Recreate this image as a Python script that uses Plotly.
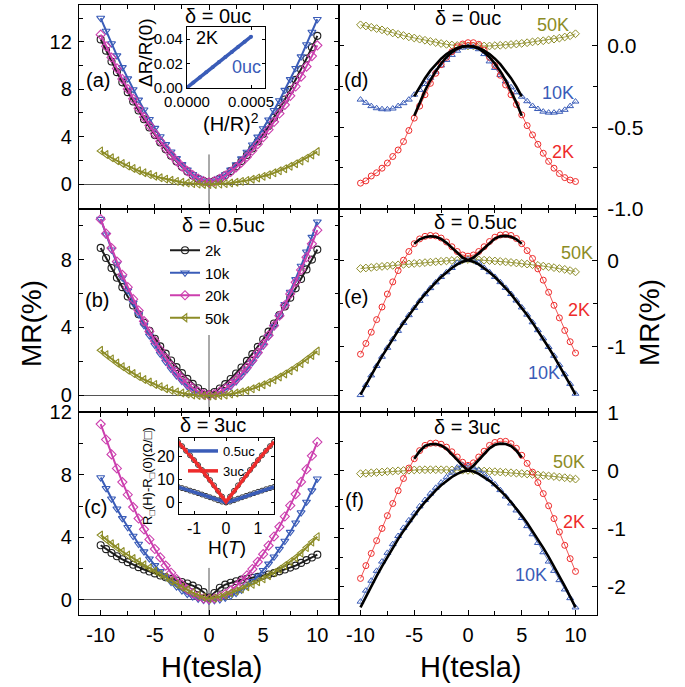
import plotly.graph_objects as go

W, HT = 685, 687
FONT = "Liberation Sans, Arial, sans-serif"

def px(x):
    return x / W

def py(y):
    return 1 - y / HT

BLACK = "#1e1e1e"
BLUE = "#3a5cb8"
MAGENTA = "#cc3fae"
OLIVE = "#8c8c26"
RED = "#ee2b2b"

# ---------------- data ----------------
H = [-10.0, -9.5, -9.0, -8.5, -8.0, -7.5, -7.0, -6.5, -6.0, -5.5, -5.0, -4.5, -4.0, -3.5,
     -3.0, -2.5, -2.0, -1.5, -1.0, -0.5, 0.0, 0.5, 1.0, 1.5, 2.0, 2.5, 3.0, 3.5, 4.0, 4.5,
     5.0, 5.5, 6.0, 6.5, 7.0, 7.5, 8.0, 8.5, 9.0, 9.5, 10.0]
H_FIT = [-5.0, -4.5, -4.0, -3.5, -3.0, -2.5, -2.0, -1.5, -1.0, -0.5, 0.0,
         0.5, 1.0, 1.5, 2.0, 2.5, 3.0, 3.5, 4.0, 4.5, 5.0]

# panel (a)  delta = 0uc
A_2K = [12.2, 11.25, 10.33, 9.44, 8.58, 7.75, 6.96, 6.20, 5.47, 4.78, 4.13, 3.51, 2.93, 2.40,
        1.91, 1.46, 1.07, 0.73, 0.45, 0.25, 0.15, 0.25, 0.46, 0.74, 1.09, 1.49, 1.95, 2.45,
        3.00, 3.59, 4.22, 4.89, 5.60, 6.35, 7.13, 7.94, 8.79, 9.67, 10.58, 11.53, 12.5]
A_10K = [14.0, 12.91, 11.85, 10.83, 9.84, 8.89, 7.98, 7.10, 6.27, 5.47, 4.72, 4.01, 3.35, 2.73,
         2.17, 1.66, 1.21, 0.82, 0.50, 0.26, 0.15, 0.26, 0.50, 0.81, 1.20, 1.65, 2.15, 2.71,
         3.32, 3.98, 4.69, 5.43, 6.22, 7.05, 7.92, 8.83, 9.77, 10.75, 11.77, 12.82, 13.9]
A_20K = [12.6, 11.62, 10.67, 9.75, 8.86, 8.01, 7.19, 6.40, 5.65, 4.93, 4.26, 3.62, 3.02, 2.47,
         1.96, 1.50, 1.10, 0.75, 0.46, 0.25, 0.15, 0.25, 0.44, 0.71, 1.03, 1.41, 1.83, 2.30,
         2.82, 3.37, 3.96, 4.59, 5.25, 5.95, 6.68, 7.44, 8.23, 9.06, 9.91, 10.79, 11.7]
A_50K = [2.8, 2.49, 2.22, 1.97, 1.74, 1.52, 1.32, 1.13, 0.96, 0.80, 0.66, 0.53, 0.42, 0.32,
         0.23, 0.15, 0.09, 0.04, 0.0, -0.03, -0.04, -0.03, 0.0, 0.04, 0.09, 0.15, 0.23, 0.31,
         0.41, 0.52, 0.65, 0.79, 0.95, 1.12, 1.30, 1.50, 1.72, 1.95, 2.19, 2.46, 2.75]

# panel (b)  delta = 0.5uc
B_2K = [8.7, 8.10, 7.51, 6.94, 6.38, 5.83, 5.30, 4.78, 4.28, 3.80, 3.33, 2.88, 2.45, 2.04,
        1.65, 1.30, 0.96, 0.66, 0.40, 0.18, 0.05, 0.18, 0.39, 0.65, 0.95, 1.28, 1.63, 2.02,
        2.42, 2.85, 3.29, 3.75, 4.23, 4.73, 5.24, 5.76, 6.31, 6.86, 7.43, 8.01, 8.6]
B_10K = [10.4, 9.48, 8.59, 7.75, 6.94, 6.18, 5.45, 4.77, 4.12, 3.51, 2.95, 2.44, 1.96, 1.53,
         1.15, 0.82, 0.52, 0.29, 0.12, 0.0, -0.05, 0.0, 0.11, 0.29, 0.52, 0.80, 1.13, 1.51,
         1.93, 2.40, 2.91, 3.46, 4.06, 4.70, 5.37, 6.09, 6.84, 7.63, 8.47, 9.34, 10.25]
B_20K = [10.4, 9.54, 8.69, 7.89, 7.11, 6.38, 5.67, 5.00, 4.37, 3.76, 3.20, 2.67, 2.19, 1.75,
         1.34, 0.99, 0.68, 0.42, 0.21, 0.06, 0.0, 0.06, 0.20, 0.39, 0.63, 0.93, 1.26, 1.64,
         2.06, 2.51, 3.00, 3.53, 4.10, 4.69, 5.31, 5.98, 6.67, 7.40, 8.15, 8.94, 9.75]
B_50K = [2.65, 2.39, 2.14, 1.90, 1.68, 1.47, 1.27, 1.09, 0.92, 0.77, 0.63, 0.50, 0.38, 0.28,
         0.19, 0.12, 0.06, 0.01, -0.02, -0.04, -0.05, -0.04, -0.02, 0.01, 0.06, 0.12, 0.19,
         0.27, 0.37, 0.49, 0.61, 0.75, 0.90, 1.07, 1.25, 1.44, 1.65, 1.86, 2.10, 2.34, 2.60]

# panel (c)  delta = 3uc
C_2K = [3.5, 3.25, 3.0, 2.8, 2.6, 2.42, 2.25, 2.1, 1.95, 1.82, 1.7, 1.57, 1.45, 1.35, 1.25,
        1.15, 1.05, 0.92, 0.75, 0.5, 0.15, 0.45, 0.78, 0.98, 1.1, 1.2, 1.3, 1.36, 1.42, 1.48,
        1.55, 1.63, 1.72, 1.83, 1.95, 2.07, 2.2, 2.37, 2.55, 2.72, 2.9]
C_10K = [7.83, 7.14, 6.47, 5.83, 5.22, 4.65, 4.09, 3.58, 3.09, 2.64, 2.21, 1.83, 1.46, 1.14,
         0.86, 0.60, 0.38, 0.21, 0.08, -0.01, -0.05, -0.03, 0.03, 0.13, 0.26, 0.44, 0.65,
         0.91, 1.20, 1.53, 1.90, 2.31, 2.76, 3.25, 3.77, 4.34, 4.94, 5.59, 6.27, 6.99, 7.75]
C_20K = [11.25, 10.26, 9.31, 8.41, 7.54, 6.73, 5.94, 5.21, 4.52, 3.87, 3.26, 2.72, 2.20, 1.74,
         1.34, 0.98, 0.67, 0.42, 0.23, 0.10, 0.05, 0.10, 0.21, 0.38, 0.60, 0.88, 1.21, 1.57,
         1.98, 2.44, 2.93, 3.48, 4.06, 4.68, 5.34, 6.04, 6.77, 7.55, 8.36, 9.22, 10.1]
C_50K = [4.15, 3.87, 3.6, 3.35, 3.1, 2.87, 2.65, 2.45, 2.25, 2.05, 1.85, 1.65, 1.45, 1.22,
         1.0, 0.82, 0.65, 0.47, 0.3, 0.18, 0.1, 0.13, 0.2, 0.32, 0.45, 0.57, 0.7, 0.85, 1.0,
         1.17, 1.35, 1.55, 1.75, 1.97, 2.2, 2.45, 2.7, 3.0, 3.35, 3.7, 4.05]

# panel (d)  delta = 0uc
D_2K = [-0.844, -0.83, -0.80, -0.78, -0.752, -0.72, -0.68, -0.64, -0.588, -0.52, -0.444,
        -0.37, -0.30, -0.23, -0.168, -0.115, -0.07, -0.035, -0.005, 0.012, 0.02, 0.02, 0.01,
        -0.025, -0.07, -0.12, -0.18, -0.24, -0.30, -0.36, -0.424, -0.49, -0.547, -0.605,
        -0.66, -0.71, -0.752, -0.785, -0.81, -0.825, -0.834]
D_10K = [-0.33, -0.35, -0.37, -0.383, -0.389, -0.39, -0.385, -0.37, -0.352, -0.33, -0.30,
         -0.27, -0.234, -0.196, -0.158, -0.12, -0.086, -0.055, -0.029, -0.01, -0.004, -0.006,
         -0.02, -0.05, -0.095, -0.135, -0.178, -0.218, -0.254, -0.285, -0.312, -0.34, -0.369,
         -0.388, -0.404, -0.41, -0.41, -0.405, -0.393, -0.37, -0.342]
D_50K = [0.13, 0.123, 0.115, 0.107, 0.099, 0.09, 0.08, 0.072, 0.064, 0.056, 0.049, 0.042,
         0.035, 0.028, 0.021, 0.015, 0.01, 0.006, 0.003, 0.001, 0.0, 0.0, -0.001, 0.0, 0.0,
         0.002, 0.004, 0.006, 0.009, 0.012, 0.016, 0.02, 0.025, 0.029, 0.032, 0.037, 0.042,
         0.048, 0.055, 0.063, 0.075]
D_FIT_10K = [-0.31, -0.251, -0.198, -0.152, -0.112, -0.078, -0.050, -0.028, -0.012, -0.003, 0.0,
             -0.003, -0.012, -0.028, -0.050, -0.078, -0.112, -0.152, -0.198, -0.251, -0.31]
D_FIT_2K = [-0.43, -0.348, -0.275, -0.211, -0.155, -0.108, -0.069, -0.039, -0.017, -0.004, 0.0,
            -0.004, -0.017, -0.039, -0.069, -0.108, -0.155, -0.211, -0.275, -0.348, -0.43]

# panel (e)  delta = 0.5uc
E_2K = [-1.084, -0.96, -0.83, -0.685, -0.54, -0.39, -0.25, -0.12, 0.0, 0.1, 0.19, 0.245,
        0.275, 0.285, 0.28, 0.255, 0.21, 0.155, 0.1, 0.06, 0.046, 0.06, 0.1, 0.155, 0.215,
        0.265, 0.29, 0.296, 0.285, 0.25, 0.19, 0.11, 0.02, -0.1, -0.23, -0.37, -0.52, -0.665,
        -0.81, -0.94, -1.07]
E_10K = [-1.555, -1.44, -1.328, -1.219, -1.113, -1.01, -0.911, -0.815, -0.723, -0.634, -0.55,
         -0.469, -0.393, -0.322, -0.255, -0.194, -0.139, -0.09, -0.03, 0.0, 0.01, 0.0, -0.03,
         -0.089, -0.138, -0.193, -0.253, -0.319, -0.39, -0.465, -0.545, -0.628, -0.716,
         -0.807, -0.902, -1.0, -1.102, -1.207, -1.315, -1.426, -1.54]
E_50K = [-0.096, -0.09, -0.084, -0.078, -0.072, -0.066, -0.06, -0.054, -0.048, -0.043, -0.038,
         -0.033, -0.028, -0.023, -0.018, -0.013, -0.008, -0.004, 0.0, 0.004, 0.008, 0.006,
         0.003, 0.0, -0.004, -0.009, -0.014, -0.02, -0.026, -0.032, -0.038, -0.045, -0.052,
         -0.06, -0.068, -0.077, -0.086, -0.096, -0.106, -0.12, -0.135]
E_FIT_10K = [-1.55, -1.435, -1.323, -1.215, -1.109, -1.007, -0.908, -0.812, -0.72, -0.632,
             -0.548, -0.468, -0.392, -0.321, -0.255, -0.194, -0.139, -0.09, -0.049, -0.017,
             0.0, -0.017, -0.049, -0.09, -0.139, -0.194, -0.255, -0.321, -0.392, -0.468,
             -0.548, -0.632, -0.72, -0.812, -0.908, -1.007, -1.109, -1.215, -1.323, -1.435, -1.55]
E_FIT_2K = [0.19, 0.24, 0.265, 0.275, 0.27, 0.245, 0.2, 0.14, 0.08, 0.03, 0.0,
            0.03, 0.08, 0.14, 0.2, 0.25, 0.275, 0.28, 0.27, 0.24, 0.19]

# panel (f)  delta = 3uc
F_2K = [-1.86, -1.64, -1.43, -1.21, -1.0, -0.78, -0.57, -0.35, -0.14, 0.04, 0.2, 0.34, 0.43,
        0.465, 0.47, 0.45, 0.4, 0.32, 0.23, 0.14, 0.086, 0.13, 0.23, 0.33, 0.43, 0.48, 0.5,
        0.5, 0.46, 0.38, 0.26, 0.12, -0.03, -0.21, -0.4, -0.61, -0.83, -1.06, -1.29, -1.52, -1.74]
F_10K = [-2.26, -2.07, -1.9, -1.73, -1.57, -1.42, -1.27, -1.13, -0.99, -0.86, -0.74, -0.62,
         -0.51, -0.4, -0.3, -0.21, -0.12, -0.04, 0.05, 0.09, 0.08, 0.05, 0.0, -0.07, -0.15,
         -0.24, -0.34, -0.45, -0.57, -0.69, -0.82, -0.96, -1.1, -1.25, -1.41, -1.57, -1.73,
         -1.89, -2.05, -2.2, -2.36]
F_50K = [-0.057, -0.05, -0.042, -0.035, -0.028, -0.02, -0.013, -0.007, -0.002, 0.003, 0.007,
         0.01, 0.011, 0.012, 0.012, 0.011, 0.01, 0.008, 0.005, 0.002, 0.0, -0.003, -0.007,
         -0.012, -0.017, -0.023, -0.029, -0.035, -0.041, -0.048, -0.055, -0.062, -0.07,
         -0.078, -0.087, -0.096, -0.105, -0.115, -0.126, -0.138, -0.15]
F_FIT_10K = [-2.36, -2.174, -1.994, -1.82, -1.652, -1.489, -1.334, -1.184, -1.042, -0.907,
             -0.779, -0.658, -0.545, -0.44, -0.344, -0.257, -0.18, -0.114, -0.059, -0.02, 0.0,
             -0.02, -0.059, -0.114, -0.18, -0.257, -0.344, -0.44, -0.545, -0.658, -0.779,
             -0.907, -1.042, -1.184, -1.334, -1.489, -1.652, -1.82, -1.994, -2.174, -2.36]
F_FIT_2K = [0.2, 0.33, 0.42, 0.45, 0.455, 0.43, 0.37, 0.28, 0.18, 0.08, 0.0,
            0.08, 0.18, 0.29, 0.38, 0.44, 0.46, 0.455, 0.42, 0.34, 0.22]

# inset of (a): dR/R(0) vs (H/R)^2 at 2K, 0uc
INSET_A_X = [0.0, 0.00005, 0.0001, 0.00015, 0.0002, 0.00025, 0.0003, 0.00035, 0.0004,
             0.00045, 0.0005]
INSET_A_Y = [0.0, 0.0042, 0.0084, 0.0126, 0.0168, 0.021, 0.0252, 0.0294, 0.0336, 0.0378, 0.042]

# inset of (c): R(H)-R(0) vs H
INSET_C_H = [-1.5, -1.375, -1.25, -1.125, -1.0, -0.875, -0.75, -0.625, -0.5, -0.375, -0.25,
             -0.125, 0.0, 0.125, 0.25, 0.375, 0.5, 0.625, 0.75, 0.875, 1.0, 1.125, 1.25,
             1.375, 1.5]
INSET_C_05UC = [6.8, 6.3, 5.8, 5.2, 4.7, 4.1, 3.5, 2.9, 2.3, 1.7, 1.0, 0.4, 0.0, 0.4, 1.0, 1.7,
                2.3, 2.9, 3.5, 4.1, 4.7, 5.2, 5.8, 6.3, 6.8]
INSET_C_3UC = [26.5, 24.6, 22.6, 20.6, 18.5, 16.4, 14.2, 12.0, 9.8, 7.5, 5.1, 2.6, 0.3, 2.6,
               5.1, 7.5, 9.8, 12.0, 14.2, 16.4, 18.5, 20.6, 22.6, 24.6, 26.5]

LEFT_NAMES = ["2k", "10k", "20k", "50k"]

X_TICKS = [-10, -5, 0, 5, 10]
X_TICKTEXT = ["-10", "-5", "0", "5", "10"]
X_MINOR = [-7.5, -2.5, 2.5, 7.5]

# ---------------- figure ----------------
fig = go.Figure()

left_style = [(BLACK, "circle-open"), (BLUE, "triangle-down-open"),
              (MAGENTA, "diamond-open"), (OLIVE, "triangle-left-open")]

left_panels = [("x", "y", [A_2K, A_10K, A_20K, A_50K]),
               ("x2", "y2", [B_2K, B_10K, B_20K, B_50K]),
               ("x3", "y3", [C_2K, C_10K, C_20K, C_50K])]

for xa, ya, series in left_panels:
    for i, vals in enumerate(series):
        col, sym = left_style[i]
        fig.add_trace(go.Scatter(
            x=H, y=vals, xaxis=xa, yaxis=ya, mode="lines+markers",
            name=LEFT_NAMES[i], showlegend=(xa == "x2"), legend="legend",
            line=dict(color=col, width=2),
            marker=dict(symbol=sym, size=7, color=col, line=dict(color=col, width=1.1))))

right_style = {"2K": (RED, "circle-open"), "10K": (BLUE, "triangle-up-open"),
               "50K": (OLIVE, "diamond-open")}

right_panels = [("x4", "y4", {"50K": D_50K, "10K": D_10K, "2K": D_2K},
                 [(H_FIT, D_FIT_10K), (H_FIT, D_FIT_2K)]),
                ("x5", "y5", {"50K": E_50K, "10K": E_10K, "2K": E_2K},
                 [(H, E_FIT_10K), (H_FIT, E_FIT_2K)]),
                ("x6", "y6", {"50K": F_50K, "10K": F_10K, "2K": F_2K},
                 [(H, F_FIT_10K), (H_FIT, F_FIT_2K)])]

for xa, ya, series, fits in right_panels:
    for nm in ["50K", "10K", "2K"]:
        col, sym = right_style[nm]
        fig.add_trace(go.Scatter(
            x=H, y=series[nm], xaxis=xa, yaxis=ya, mode="lines+markers", showlegend=False,
            line=dict(color=col, width=0.8),
            marker=dict(symbol=sym, size=6, color=col, line=dict(color=col, width=1))))
    for fx, fy in fits:
        fig.add_trace(go.Scatter(x=fx, y=fy, xaxis=xa, yaxis=ya, mode="lines",
                                 showlegend=False, line=dict(color="black", width=2.6)))

# inset (a)
fig.add_trace(go.Scatter(x=INSET_A_X, y=INSET_A_Y, xaxis="x7", yaxis="y7", mode="lines+markers",
                         showlegend=False, line=dict(color=BLUE, width=3.5),
                         marker=dict(size=4, color=BLUE)))

# inset (c)
for vals in [INSET_C_05UC, INSET_C_3UC]:
    fig.add_trace(go.Scatter(x=INSET_C_H, y=vals, xaxis="x8", yaxis="y8", mode="markers",
                             showlegend=False,
                             marker=dict(symbol="circle-open", size=5, color="#333",
                                         line=dict(width=1, color="#333"))))
for vals, col, nm in [(INSET_C_05UC, BLUE, "0.5uc"), (INSET_C_3UC, RED, "3uc")]:
    fig.add_trace(go.Scatter(x=INSET_C_H, y=vals, xaxis="x8", yaxis="y8", mode="lines",
                             name=nm, showlegend=True, legend="legend2",
                             line=dict(color=col, width=3.5)))

# ---------------- axes ----------------
LX = [px(79), px(339)]
RX = [px(339), px(597)]
ROWS = [[py(209), py(5)], [py(412), py(209)], [py(615), py(412)]]

def tickfont(size):
    return dict(family=FONT, size=size, color="black")

def xaxis(domain, anchor, labels):
    return dict(domain=domain, anchor=anchor, range=[-12, 12], showline=True,
                linecolor="black", linewidth=1.3, mirror="ticks", ticks="inside",
                ticklen=5, tickwidth=1.2, tickcolor="black", tickmode="array",
                tickvals=X_TICKS, ticktext=X_TICKTEXT, showticklabels=labels,
                tickfont=tickfont(20), automargin=False, ticklabelstandoff=2,
                minor=dict(ticks="inside", ticklen=4, tickwidth=1, tickcolor="black",
                           tickmode="array", tickvals=X_MINOR),
                showgrid=False, zeroline=False)

def yaxis(domain, anchor, rng, tv, tt, minor, side, zl, size, standoff):
    return dict(domain=domain, anchor=anchor, range=rng, side=side, showline=True,
                linecolor="black", linewidth=1.3, mirror="ticks", ticks="inside",
                ticklen=5, tickwidth=1.2, tickcolor="black", tickmode="array",
                tickvals=tv, ticktext=tt, tickfont=tickfont(size), automargin=False,
                ticklabelstandoff=standoff,
                minor=dict(ticks="inside", ticklen=4, tickwidth=1, tickcolor="black",
                           tickmode="array", tickvals=minor),
                showgrid=False, zeroline=zl, zerolinecolor="#555", zerolinewidth=1)

def inset_axis(domain, anchor, rng, tv, tt, size):
    return dict(domain=domain, anchor=anchor, range=rng, showline=True, linecolor="black",
                linewidth=1.2, mirror="ticks", ticks="inside", ticklen=3, tickcolor="black",
                tickmode="array", tickvals=tv, ticktext=tt, tickfont=tickfont(size),
                showgrid=False, zeroline=False, automargin=False)

layout_axes = dict(
    xaxis=xaxis(LX, "y", False),
    xaxis2=xaxis(LX, "y2", False),
    xaxis3=xaxis(LX, "y3", True),
    xaxis4=xaxis(RX, "y4", False),
    xaxis5=xaxis(RX, "y5", False),
    xaxis6=xaxis(RX, "y6", True),
    yaxis=yaxis(ROWS[0], "x", [-2.1, 15.1], [0, 4, 8, 12], ["0", "4", "8", "12"],
                [2, 6, 10, 14], "left", True, 20, 2),
    yaxis2=yaxis(ROWS[1], "x2", [-1.0, 11.0], [0, 4, 8], ["0", "4", "8"],
                 [2, 6, 10], "left", True, 20, 2),
    yaxis3=yaxis(ROWS[2], "x3", [-0.96, 12.02], [0, 4, 8, 12], ["0", "4", "8", "12"],
                 [2, 6, 10], "left", True, 20, 2),
    yaxis4=yaxis(ROWS[0], "x4", [-1.003, 0.252], [0, -0.5, -1.0], ["0.0", "-0.5", "-1.0"],
                 [0.25, -0.25, -0.75], "right", False, 21, 5),
    yaxis5=yaxis(ROWS[1], "x5", [-1.75, 0.59], [0, -1], ["0", "-1"],
                 [0.5, -0.5, -1.5], "right", False, 21, 5),
    yaxis6=yaxis(ROWS[2], "x6", [-2.49, 1.005], [1, 0, -1, -2], ["1", "0", "-1", "-2"],
                 [0.5, -0.5, -1.5], "right", False, 21, 5),
    xaxis7=inset_axis([px(187), px(265)], "y7", [0, 0.000609], [0, 0.0005],
                      ["0.0000", "0.0005"], 15),
    yaxis7=inset_axis([py(88.3), py(26.7)], "x7", [-0.0006, 0.0502], [0, 0.02, 0.04],
                      ["0.00", "0.02", "0.04"], 15),
    xaxis8=inset_axis([px(179), px(274)], "y8", [-1.47, 1.5], [-1, 0, 1],
                      ["-1", "0", "1"], 16),
    yaxis8=inset_axis([py(514), py(437.7)], "x8", [-5, 28.3], [0, 10, 20],
                      ["0", "10", "20"], 16),
)

# ---------------- annotations ----------------
def ann(x, y, text, size, color="black", angle=0, xanchor="center"):
    return dict(x=px(x), y=py(y), xref="paper", yref="paper", text=text, showarrow=False,
                font=dict(family=FONT, size=size, color=color), textangle=angle,
                xanchor=xanchor, yanchor="middle")

annotations = [
    ann(98, 80, "(a)", 20), ann(97, 300, "(b)", 20), ann(95, 507, "(c)", 20),
    ann(356, 80, "(d)", 20), ann(356, 297, "(e)", 20), ann(354, 500, "(f)", 20),
    ann(218, 16, "δ = 0uc", 20), ann(223, 225, "δ = 0.5uc", 20), ann(213, 425, "δ = 3uc", 20),
    ann(468, 18, "δ = 0uc", 20), ann(475, 222, "δ = 0.5uc", 20), ann(467, 427, "δ = 3uc", 20),
    ann(553, 25, "50K", 18, OLIVE), ann(558, 93, "10K", 18, BLUE), ann(563, 152, "2K", 18, RED),
    ann(577, 253, "50K", 18, OLIVE), ann(579, 310, "2K", 18, RED), ann(544, 373, "10K", 18, BLUE),
    ann(569, 462, "50K", 18, OLIVE), ann(574, 522, "2K", 18, RED), ann(531, 575, "10K", 18, BLUE),
    ann(207, 38, "2K", 18), ann(246, 67, "0uc", 18, BLUE),
    ann(145, 53, "ΔR/R(0)", 19, angle=-90),
    ann(231, 122, "(H/R)<sup>2</sup>", 20),
    ann(148, 476, "R<sub>□</sub>(H)-R<sub>□</sub>(0)(Ω/□)", 13, angle=-90),
    ann(227, 547, "H(<i>T</i>)", 19),
    ann(31, 324, "MR(%)", 28, angle=-90),
    ann(650, 323, "MR(%)", 28, angle=-90),
    ann(212, 667, "H(tesla)", 29),
    ann(471, 667, "H(tesla)", 29),
]

# zero-field guide lines at H = 0 in the left panels
shapes = []
for xr, yr, y0, y1 in [("x", "y", -2.1, 2.5), ("x2", "y2", -1.0, 3.55), ("x3", "y3", -0.96, 2.05)]:
    shapes.append(dict(type="line", xref=xr, yref=yr, x0=0, x1=0, y0=y0, y1=y1,
                       line=dict(color="#555", width=1), layer="below"))

fig.update_layout(
    width=W, height=HT, autosize=False,
    margin=dict(l=0, r=0, t=0, b=0, pad=0, autoexpand=False),
    paper_bgcolor="white", plot_bgcolor="white",
    font=dict(family=FONT, color="black"),
    annotations=annotations, shapes=shapes,
    legend=dict(x=px(165), y=py(234), xanchor="left", yanchor="top",
                bgcolor="rgba(0,0,0,0)", font=dict(family=FONT, size=15),
                itemwidth=30, tracegroupgap=0),
    legend2=dict(x=px(183), y=py(436), xanchor="left", yanchor="top",
                 bgcolor="rgba(0,0,0,0)", font=dict(family=FONT, size=13),
                 itemwidth=30, tracegroupgap=0),
    **layout_axes,
)

fig.write_html("out.html",
               config={"displayModeBar": False},
               post_script="document.body.style.margin='0px';document.body.style.padding='0px';")
